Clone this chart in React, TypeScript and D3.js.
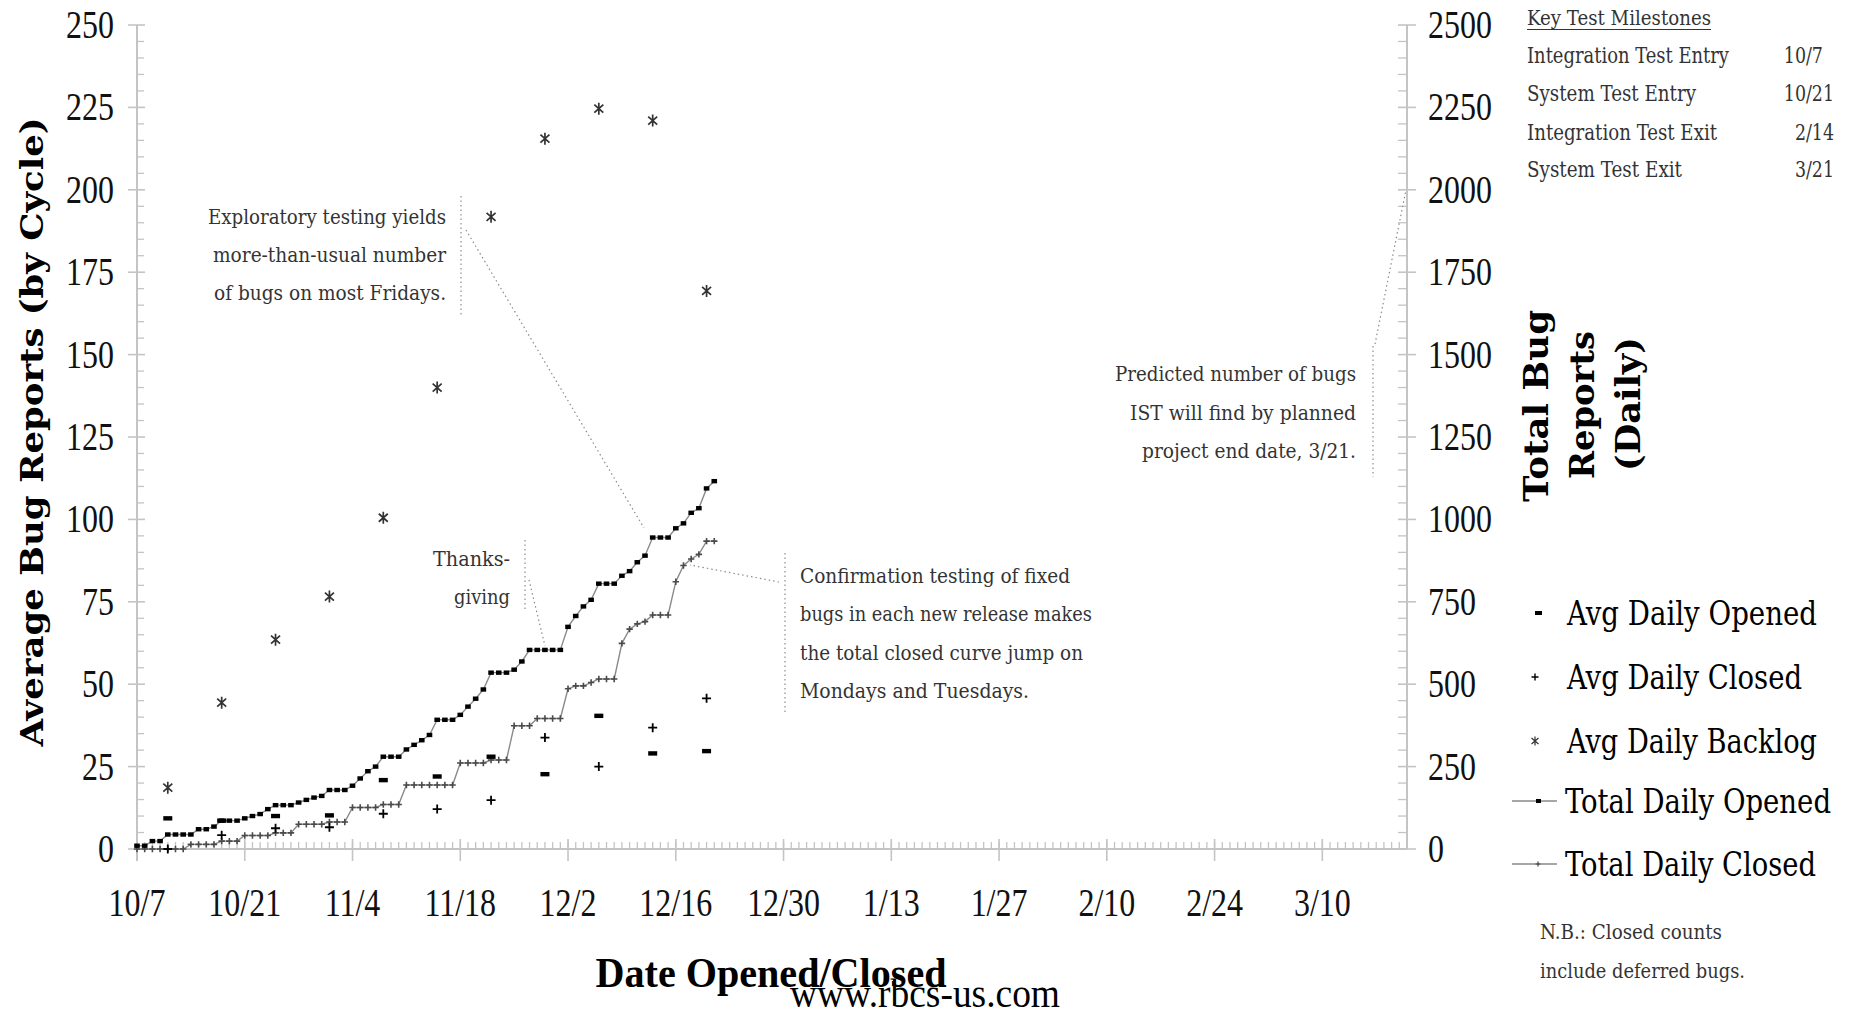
import React from "react";
import * as d3 from "d3";

// ---------- DATA ----------
const startDate = Date.UTC(2002, 9, 7);
const endDate = Date.UTC(2003, 2, 21);

const xTickLabels = ["10/7", "10/21", "11/4", "11/18", "12/2", "12/16", "12/30", "1/13", "1/27", "2/10", "2/24", "3/10"];
const leftTicks = [0, 25, 50, 75, 100, 125, 150, 175, 200, 225, 250];
const rightTicks = [0, 250, 500, 750, 1000, 1250, 1500, 1750, 2000, 2250, 2500];

// Daily totals (bug counts, right axis), one per day starting 10/7
const totalOpened = [10, 10, 24, 24, 44, 44, 44, 44, 60, 60, 68, 86, 86, 86, 93, 100, 106, 121, 133, 133, 133, 141, 149, 156, 161, 179, 179, 179, 192, 214, 236, 250, 280, 280, 280, 302, 316, 330, 346, 392, 392, 392, 407, 432, 456, 484, 535, 535, 535, 544, 569, 604, 604, 604, 604, 604, 674, 707, 736, 756, 805, 805, 805, 829, 843, 870, 890, 945, 945, 945, 973, 988, 1020, 1034, 1094, 1116];
const totalClosed = [0, 0, 0, 0, 0, 0, 0, 14, 14, 14, 14, 24, 24, 24, 41, 41, 41, 41, 49, 49, 49, 75, 75, 75, 75, 82, 82, 82, 126, 126, 126, 126, 135, 135, 135, 194, 194, 194, 194, 194, 194, 194, 261, 261, 261, 261, 270, 270, 270, 374, 374, 374, 396, 396, 396, 396, 486, 495, 495, 505, 516, 516, 516, 624, 667, 683, 690, 710, 710, 710, 811, 860, 880, 894, 934, 934];

// Weekly averages (left axis), plotted on Fridays
const cycleDates = ["10/11", "10/18", "10/25", "11/1", "11/8", "11/15", "11/22", "11/29", "12/6", "12/13", "12/20"];
const avgOpened = [9.3, 8.6, 10.0, 10.2, 20.9, 22.0, 28.0, 22.7, 40.4, 29.0, 29.7];
const avgClosed = [0, 4.2, 6.3, 6.6, 10.7, 12.1, 14.8, 33.8, 25.0, 36.8, 45.7];
const avgBacklog = [18.6, 44.4, 63.5, 76.6, 100.5, 140.0, 191.8, 215.5, 224.6, 221.0, 169.3];

const milestoneNames = ["Integration Test Entry", "System Test Entry", "Integration Test Exit", "System Test Exit"];
const milestoneDates = ["10/7", "10/21", "2/14", "3/21"];

const legendLabels = ["Avg Daily Opened", "Avg Daily Closed", "Avg Daily Backlog", "Total Daily Opened", "Total Daily Closed"];

// ---------- HELPERS ----------
const parseMD = (s: string) => {
  const [m, d] = s.split("/").map(Number);
  return new Date(Date.UTC(m >= 9 ? 2002 : 2003, m - 1, d));
};

const W = 1854, H = 1015;
const plot = { left: 137, right: 1407, top: 25, bottom: 849 };

const x = d3.scaleUtc().domain([new Date(startDate), new Date(endDate)]).range([plot.left, plot.right]);
const yL = d3.scaleLinear().domain([0, 250]).range([plot.bottom, plot.top]);
const yR = d3.scaleLinear().domain([0, 2500]).range([plot.bottom, plot.top]);

const dayDate = (i: number) => d3.utcDay.offset(new Date(startDate), i);

const SERIF = "'Liberation Serif', 'Times New Roman', serif";
const SLAB = "'DejaVu Serif Condensed', 'DejaVu Serif', serif";
const AXIS = "#c4c4c4";

type TP = {
  x: number; y: number; children: React.ReactNode; size: number; anchor?: string;
  weight?: string | number; family?: string; fill?: string; len?: number; rotate?: number; sx?: number;
};
function T({ x: tx, y: ty, children, size, anchor = "start", weight = "normal", family = SLAB, fill = "#000", len, rotate, sx }: TP) {
  let transform = `translate(${tx},${ty})`;
  if (rotate) transform += ` rotate(${rotate})`;
  if (sx) transform += ` scale(${sx},1)`;
  const extra: any = {};
  if (len) {
    extra.textLength = len;
    extra.lengthAdjust = "spacingAndGlyphs";
  }
  return (
    <text transform={transform} textAnchor={anchor as any} fontSize={size} fontWeight={weight as any} fontFamily={family} fill={fill} {...extra}>
      {children}
    </text>
  );
}

const plusPath = (r: number) => `M${-r},0H${r}M0,${-r}V${r}`;
const astPath = "M0,-6V6M-4.5,-4L4.5,4M-4.5,4L4.5,-4";

export default function App() {
  const days = totalOpened.map((_, i) => dayDate(i));
  const lineOpen = d3.line<number>().x((_, i) => x(days[i])).y((v) => yR(v));
  const lineClosed = d3.line<number>().x((_, i) => x(days[i])).y((v) => yR(v));

  const allDays = d3.utcDay.range(new Date(startDate), d3.utcDay.offset(new Date(endDate), 1));
  const minorLeft = d3.range(0, 251, 5).filter((v) => v % 25 !== 0);
  const minorRight = d3.range(0, 2501, 50).filter((v) => v % 250 !== 0);
  const cyc = cycleDates.map(parseMD);

  const tickFont = 39;
  const tickSX = 0.82;

  const legendY = [613, 677, 741, 801, 864];
  const dotted = { stroke: "#8c8c8c", strokeWidth: 1.2, strokeDasharray: "1.5 3", fill: "none" };

  return (
    <svg width={W} height={H} style={{ position: "absolute", left: 0, top: 0, background: "#fff" }}>
      <rect width={W} height={H} fill="#fff" />

      {/* X axis */}
      <line x1={plot.left} x2={plot.right} y1={plot.bottom} y2={plot.bottom} stroke={AXIS} strokeWidth={2} />
      {allDays.map((d, i) => (
        <line key={"xm" + i} x1={x(d)} x2={x(d)} y1={plot.bottom} y2={plot.bottom - 7} stroke={AXIS} strokeWidth={1.3} />
      ))}
      {xTickLabels.map((lab) => {
        const px = x(parseMD(lab));
        return (
          <g key={"xt" + lab}>
            <line x1={px} x2={px} y1={plot.bottom - 10} y2={plot.bottom + 12} stroke={AXIS} strokeWidth={1.6} />
            <T x={px} y={916} size={tickFont} anchor="middle" family={SERIF} sx={tickSX} fill="#111">{lab}</T>
          </g>
        );
      })}

      {/* Left axis */}
      <line x1={plot.left} x2={plot.left} y1={plot.top} y2={plot.bottom + 12} stroke={AXIS} strokeWidth={2} />
      {minorLeft.map((v) => (
        <line key={"lm" + v} x1={plot.left} x2={plot.left + 7} y1={yL(v)} y2={yL(v)} stroke={AXIS} strokeWidth={1.3} />
      ))}
      {leftTicks.map((v) => (
        <g key={"lt" + v}>
          <line x1={plot.left - 9} x2={plot.left + 8} y1={yL(v)} y2={yL(v)} stroke={AXIS} strokeWidth={1.6} />
          <T x={114} y={yL(v) + 13} size={tickFont} anchor="end" family={SERIF} sx={tickSX} fill="#111">{v}</T>
        </g>
      ))}

      {/* Right axis */}
      <line x1={plot.right} x2={plot.right} y1={plot.top} y2={plot.bottom} stroke={AXIS} strokeWidth={2} />
      {minorRight.map((v) => (
        <line key={"rm" + v} x1={plot.right - 9} x2={plot.right} y1={yR(v)} y2={yR(v)} stroke={AXIS} strokeWidth={1.3} />
      ))}
      {rightTicks.map((v) => (
        <g key={"rt" + v}>
          <line x1={plot.right - 9} x2={plot.right + 9} y1={yR(v)} y2={yR(v)} stroke={AXIS} strokeWidth={1.6} />
          <T x={1428} y={yR(v) + 13} size={tickFont} anchor="start" family={SERIF} sx={tickSX} fill="#111">{v}</T>
        </g>
      ))}

      {/* Axis titles */}
      <T x={43} y={432} rotate={-90} size={31} anchor="middle" weight="bold" family="'DejaVu Serif', serif" len={629}>
        Average Bug Reports (by Cycle)
      </T>
      <T x={1548} y={406} rotate={-90} size={33} anchor="middle" weight="bold" family="'DejaVu Serif', serif" len={192}>Total Bug</T>
      <T x={1594} y={405} rotate={-90} size={33} anchor="middle" weight="bold" family="'DejaVu Serif', serif" len={148}>Reports</T>
      <T x={1640} y={404} rotate={-90} size={33} anchor="middle" weight="bold" family="'DejaVu Serif', serif" len={134}>(Daily)</T>
      <T x={771} y={987} size={42} anchor="middle" weight="bold" family={SERIF} len={351}>Date Opened/Closed</T>
      <T x={925} y={1007} size={39} anchor="middle" family={SERIF} len={270}>www.rbcs-us.com</T>

      {/* Total lines */}
      <path d={lineClosed(totalClosed) || ""} fill="none" stroke="#8a8a8a" strokeWidth={1.4} />
      <path d={lineOpen(totalOpened) || ""} fill="none" stroke="#8a8a8a" strokeWidth={1.4} />
      {totalClosed.map((v, i) => (
        <path key={"tc" + i} d={plusPath(3.2)} transform={`translate(${x(days[i])},${yR(v)})`} stroke="#4a4a4a" strokeWidth={1.6} fill="none" />
      ))}
      {totalOpened.map((v, i) => (
        <rect key={"to" + i} x={x(days[i]) - 2.8} y={yR(v) - 2.2} width={5.6} height={4.4} fill="#000" />
      ))}

      {/* Weekly averages */}
      {avgBacklog.map((v, i) => (
        <path key={"ab" + i} d={astPath} transform={`translate(${x(cyc[i])},${yL(v)})`} stroke="#333" strokeWidth={1.7} fill="none" />
      ))}
      {avgClosed.map((v, i) => (
        <path key={"ac" + i} d={plusPath(4.5)} transform={`translate(${x(cyc[i])},${yL(v)})`} stroke="#000" strokeWidth={1.8} fill="none" />
      ))}
      {avgOpened.map((v, i) => (
        <rect key={"ao" + i} x={x(cyc[i]) - 4.5} y={yL(v) - 2.2} width={9} height={4.4} fill="#000" />
      ))}

      {/* Annotation 1 */}
      <line x1={461} x2={461} y1={196} y2={316} {...dotted} />
      <line x1={466} x2={644} y1={230} y2={528} {...dotted} />
      <T x={446} y={224} size={20} anchor="end" fill="#333" len={238}>Exploratory testing yields</T>
      <T x={446} y={262} size={20} anchor="end" fill="#333" len={233}>more-than-usual number</T>
      <T x={446} y={300} size={20} anchor="end" fill="#333" len={232}>of bugs on most Fridays.</T>

      {/* Annotation 2 */}
      <line x1={525} x2={525} y1={540} y2={609} {...dotted} />
      <line x1={529} x2={545} y1={580} y2={646} {...dotted} />
      <T x={510} y={566} size={20} anchor="end" fill="#333" len={77}>Thanks-</T>
      <T x={510} y={604} size={20} anchor="end" fill="#333" len={56}>giving</T>

      {/* Annotation 3 */}
      <line x1={785} x2={785} y1={553} y2={714} {...dotted} />
      <line x1={779} x2={690} y1={582} y2={565} {...dotted} />
      <T x={800} y={583} size={20} fill="#333" len={270}>Confirmation testing of fixed</T>
      <T x={800} y={621} size={20} fill="#333" len={292}>bugs in each new release makes</T>
      <T x={800} y={660} size={20} fill="#333" len={283}>the total closed curve jump on</T>
      <T x={800} y={698} size={20} fill="#333" len={229}>Mondays and Tuesdays.</T>

      {/* Annotation 4 */}
      <line x1={1373} x2={1373} y1={346} y2={477} {...dotted} />
      <line x1={1375} x2={1406} y1={344} y2={yR(2000)} {...dotted} />
      <T x={1356} y={381} size={20} anchor="end" fill="#333" len={241}>Predicted number of bugs</T>
      <T x={1356} y={420} size={20} anchor="end" fill="#333" len={226}>IST will find by planned</T>
      <T x={1356} y={458} size={20} anchor="end" fill="#333" len={214}>project end date, 3/21.</T>

      {/* Milestones */}
      <T x={1527} y={25} size={21} fill="#333" len={184}>Key Test Milestones</T>
      <line x1={1527} x2={1711} y1={29.5} y2={29.5} stroke="#333" strokeWidth={1.2} />
      {milestoneNames.map((n, i) => {
        const yy = [63, 101, 140, 177][i];
        const [m, d] = milestoneDates[i].split("/");
        return (
          <g key={"ms" + i}>
            <T x={1527} y={yy} size={22} fill="#333" len={[202, 169, 190, 155][i]}>{n}</T>
            <T x={1806} y={yy} size={22} anchor="end" fill="#333" sx={0.88}>{m}</T>
            <T x={1806} y={yy} size={22} fill="#333" sx={0.88}>{"/" + d}</T>
          </g>
        );
      })}

      {/* Legend */}
      {legendLabels.map((lab, i) => {
        const ly = legendY[i];
        const tx = i < 3 ? 1567 : 1565;
        const lens = [250, 235, 250, 266, 251];
        let mark: React.ReactNode = null;
        if (i === 0) mark = <rect x={1535} y={ly - 2} width={7} height={4} fill="#000" />;
        if (i === 1) mark = <path d={plusPath(3.5)} transform={`translate(${1535},${ly})`} stroke="#000" strokeWidth={1.4} fill="none" />;
        if (i === 2) mark = <path d="M0,-4.5V4.5M-3.5,-3L3.5,3M-3.5,3L3.5,-3" transform={`translate(${1535},${ly})`} stroke="#333" strokeWidth={1.2} fill="none" />;
        if (i === 3)
          mark = (
            <g>
              <line x1={1512} x2={1557} y1={ly} y2={ly} stroke="#8a8a8a" strokeWidth={1.4} />
              <rect x={1536} y={ly - 2} width={5} height={4} fill="#000" />
            </g>
          );
        if (i === 4)
          mark = (
            <g>
              <line x1={1512} x2={1557} y1={ly} y2={ly} stroke="#8a8a8a" strokeWidth={1.4} />
              <path d={plusPath(2.5)} transform={`translate(${1538},${ly})`} stroke="#444" strokeWidth={1.2} fill="none" />
            </g>
          );
        return (
          <g key={"lg" + i}>
            {mark}
            <T x={tx} y={ly + 12} size={33} len={lens[i]}>{lab}</T>
          </g>
        );
      })}

      {/* N.B. */}
      <T x={1540} y={939} size={20} fill="#333" len={182}>N.B.: Closed counts</T>
      <T x={1540} y={978} size={20} fill="#333" len={205}>include deferred bugs.</T>
    </svg>
  );
}
